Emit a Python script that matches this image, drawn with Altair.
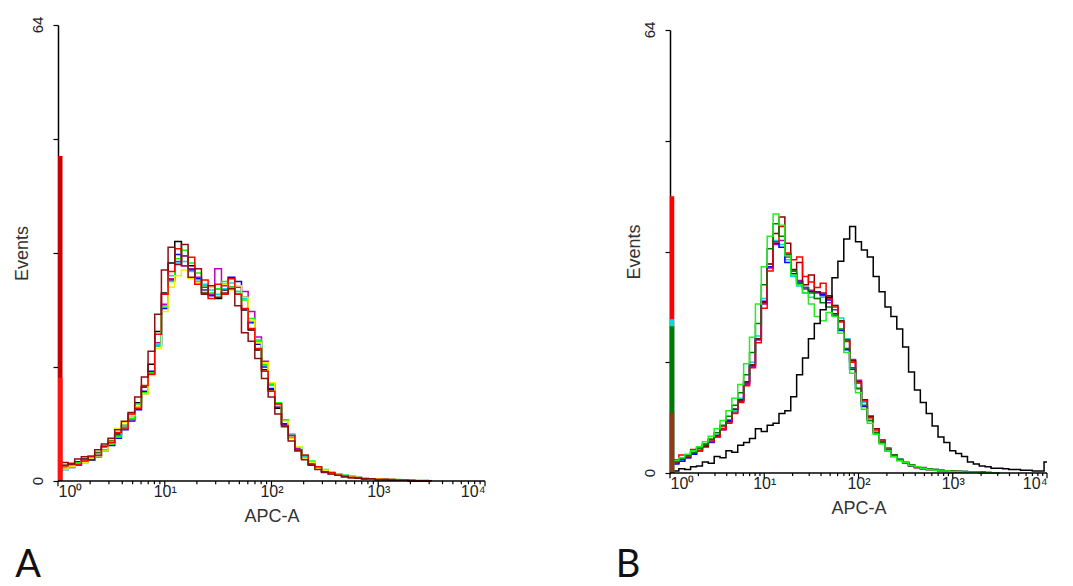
import altair as alt
import pandas as pd

# ---------------- axis ticks ----------------
X_TICK_VALUES = [1, 10, 100, 1000, 10000]
X_TICK_LABELS = ["10⁰", "10¹", "10²", "10³", "10⁴"]
X_MINOR_MULT = [2, 3, 4, 5, 6, 7, 8, 9]
Y_TICK_VALUES = [0, 16, 32, 48, 64]
Y_LABEL_VALUES = [0, 64]
Y_LABEL_TEXT = ["0", "64"]
BINS_PER_DECADE = 16
SPIKE_X = 1.05

# ---------------- panel A (channel k -> 10^(k/16)) ----------------
A_NAMES = ["black", "magenta", "blue", "cyan", "lime", "yellow", "red", "maroon"]
A_COLORS = ["#000000", "#c000c0", "#0000ff", "#00d8f0", "#00ff00", "#f2f200", "#ff0000", "#8b1010"]
A_BLACK = [1.9,2.2,2.4,2.7,3.1,3.4,4.0,4.8,5.7,6.6,7.8,9.2,11.0,13.2,16.4,21.0,26.4,30.6,33.6,31.6,30.2,28.0,26.4,26.2,25.6,26.8,27.2,26.2,24.0,21.2,18.4,15.6,12.8,10.2,8.0,6.0,4.4,3.2,2.4,1.8,1.4,1.1,0.9,0.7,0.5,0.4,0.3,0.3,0.2,0.2,0.1,0.1,0.1,0.0,0.0,0.0,0]
A_MAGENTA = [1.6,1.8,2.3,2.4,3.0,3.3,3.5,4.4,5.4,6.3,7.5,8.4,10.4,12.4,15.2,19.4,24.8,28.4,30.8,31.6,29.8,28.6,27.2,26.2,29.8,27.4,27.0,27.2,26.6,23.8,20.2,16.8,13.6,10.8,8.6,6.4,4.6,3.6,2.6,1.9,1.4,1.1,0.9,0.7,0.6,0.4,0.4,0.3,0.2,0.2,0.2,0.1,0.1,0.1,0.0,0.0,0]
A_BLUE = [1.4,1.6,1.9,2.2,2.6,2.9,3.4,4.2,5.0,6.0,7.2,8.6,10.0,12.6,15.4,19.0,24.2,28.2,31.8,30.2,29.6,28.4,26.8,26.0,27.0,27.6,28.6,28.0,25.8,22.2,19.2,16.0,13.0,10.4,8.0,6.0,4.4,3.2,2.4,1.8,1.2,1.0,0.8,0.6,0.5,0.4,0.3,0.3,0.2,0.1,0.1,0.1,0.1,0.0,0.0,0.0,0]
A_CYAN = [1.2,1.6,2.0,2.4,2.7,3.0,3.6,4.3,5.3,6.2,7.4,8.7,10.2,12.2,15.0,19.2,24.6,28.8,30.6,30.8,29.4,28.0,27.6,26.8,26.2,27.0,27.8,26.6,25.6,22.4,19.6,16.2,13.4,10.8,8.4,6.6,4.8,3.4,2.6,2.0,1.5,1.1,1.0,0.8,0.6,0.5,0.4,0.3,0.2,0.2,0.1,0.1,0.1,0.1,0.0,0.0,0]
A_LIME = [1.5,1.9,2.1,2.6,2.7,3.3,3.9,4.4,5.2,6.2,7.8,8.8,10.8,12.4,15.2,19.0,24.4,28.0,31.2,32.4,30.6,29.2,27.4,26.4,27.0,28.0,27.2,26.6,25.4,22.8,19.8,16.4,13.6,11.0,8.6,6.4,4.8,3.6,2.8,2.0,1.6,1.2,1.0,0.8,0.7,0.5,0.4,0.3,0.3,0.2,0.2,0.2,0.1,0.1,0.1,0.1,0]
A_YELLOW = [1.4,1.7,2.0,2.3,2.6,3.1,3.5,4.2,5.8,7.4,8.2,9.2,10.4,12.2,14.8,18.6,23.8,27.2,28.8,29.6,28.4,27.8,26.6,27.2,26.0,27.6,26.8,27.4,25.8,22.6,19.4,16.6,13.8,10.6,8.4,6.0,4.8,3.2,2.6,1.8,1.5,1.0,0.9,0.7,0.6,0.4,0.4,0.3,0.3,0.2,0.2,0.1,0.1,0.1,0.1,0.0,0]
A_RED = [1.6,2.1,2.5,2.3,2.8,3.5,3.6,4.9,5.4,6.8,7.3,9.4,10.2,13.4,15.0,20.6,26.2,29.4,32.6,30.2,31.4,27.6,28.2,25.6,27.6,26.2,28.4,26.2,24.2,21.4,18.6,15.4,12.6,10.8,7.8,6.4,4.4,3.6,2.4,2.0,1.3,1.2,0.8,0.7,0.5,0.5,0.3,0.3,0.2,0.2,0.2,0.1,0.1,0.1,0.0,0.0,0]
A_MAROON = [2.2,2.6,2.4,3.1,3.4,3.0,4.4,5.2,6.0,7.2,8.4,9.6,11.8,14.6,18.2,23.4,29.6,32.8,30.4,33.2,28.6,29.8,26.2,27.4,25.8,26.4,27.0,24.6,20.8,19.6,17.2,14.4,11.8,9.4,7.6,5.6,4.2,3.0,2.2,1.6,1.3,1.0,0.8,0.6,0.5,0.4,0.3,0.3,0.2,0.2,0.1,0.1,0.1,0.0,0.0,0.0,0]
A_VALUES = [A_BLACK, A_MAGENTA, A_BLUE, A_CYAN, A_LIME, A_YELLOW, A_RED, A_MAROON]
A_SPIKE_COLORS = ["#c80000", "#ff1414"]
A_SPIKE_VALUES = [45.6, 14.5]

# ---------------- panel B ----------------
B_NAMES = ["magenta", "cyan", "blue", "maroon", "red", "darkgreen", "lime", "black"]
B_COLORS = ["#b800b8", "#00dcdc", "#0000ff", "#8b0000", "#ff0000", "#007a00", "#22ee22", "#000000"]
B_MAGENTA = [1.2,1.4,1.8,2.2,2.7,3.2,3.8,4.4,5.2,6.2,7.4,8.8,10.4,12.8,15.4,19.2,24.4,29.6,33.0,33.6,31.2,29.2,27.8,26.6,26.4,26.0,25.6,24.6,23.6,22.0,19.4,16.4,13.4,10.6,8.2,6.4,4.8,3.6,2.6,2.0,1.5,1.2,0.9,0.8,0.6,0.5,0.4,0.3,0.3,0.2,0.2,0.1,0.1,0.1,0.1,0.0,0]
B_CYAN = [1.1,1.4,1.8,2.3,2.8,3.3,3.9,4.6,5.5,6.5,7.7,9.0,10.8,13.2,16.0,19.8,25.2,30.2,33.6,33.0,30.8,28.4,27.0,26.0,25.4,25.2,25.4,25.2,24.2,22.4,19.4,16.2,13.0,10.2,8.0,6.0,4.6,3.4,2.6,2.0,1.5,1.2,0.9,0.7,0.6,0.5,0.4,0.3,0.2,0.2,0.2,0.1,0.1,0.1,0.0,0.0,0]
B_BLUE = [1.0,1.3,1.7,2.2,2.7,3.2,3.9,4.5,5.3,6.4,7.6,9.2,10.6,13.0,15.6,19.4,24.8,29.8,33.2,32.6,30.4,28.8,27.6,26.8,26.2,26.2,25.8,25.0,23.0,20.6,17.8,15.0,12.2,9.6,7.6,5.8,4.4,3.2,2.4,1.8,1.4,1.0,0.8,0.6,0.5,0.4,0.3,0.2,0.2,0.2,0.1,0.1,0.1,0.0,0.0,0.0,0]
B_MAROON = [1.1,1.6,2.0,2.6,2.9,3.6,3.8,4.8,5.4,6.8,7.4,9.2,10.4,13.2,15.6,19.4,24.6,30.2,34.6,37.0,33.2,29.4,30.4,27.2,28.6,26.2,26.0,25.6,24.2,22.0,19.2,16.2,13.2,10.6,8.2,6.4,4.6,3.4,2.6,1.9,1.5,1.1,0.8,0.7,0.5,0.4,0.3,0.3,0.2,0.2,0.1,0.1,0.1,0.1,0.0,0.0,0]
B_RED = [1.3,1.9,2.6,2.4,3.4,3.2,4.2,4.6,5.2,6.4,7.2,8.6,10.2,12.6,15.2,18.8,23.8,29.2,33.4,35.6,31.8,30.8,31.2,28.4,27.6,26.8,27.4,25.2,24.0,21.8,19.0,16.0,13.0,10.4,8.0,6.2,4.6,3.4,2.5,1.9,1.4,1.1,0.8,0.6,0.5,0.4,0.3,0.3,0.2,0.2,0.1,0.1,0.1,0.0,0.0,0.0,0]
B_DARKGREEN = [1.6,1.7,2.1,2.5,3.0,3.5,4.1,4.9,5.8,6.9,8.2,9.8,11.6,14.2,17.4,21.6,27.2,32.4,36.0,34.2,31.6,29.2,27.4,26.8,26.0,25.2,24.6,24.0,22.8,20.8,18.0,15.2,12.2,9.8,7.6,5.8,4.4,3.4,2.6,2.0,1.5,1.2,0.9,0.7,0.6,0.5,0.4,0.3,0.3,0.2,0.2,0.1,0.1,0.1,0.0,0.0,0]
B_LIME = [1.4,1.8,2.2,2.7,3.2,3.8,4.5,5.3,6.4,7.6,9.0,10.8,12.8,15.8,19.6,24.4,29.8,34.2,37.4,35.8,31.4,28.6,27.2,26.0,24.4,22.6,22.0,23.2,22.6,20.2,17.4,14.4,11.6,9.2,7.2,5.6,4.2,3.2,2.4,1.8,1.5,1.1,0.9,0.7,0.5,0.4,0.3,0.3,0.2,0.2,0.1,0.1,0.1,0.0,0.0,0.0,0]
B_BLACK = [0.4,0.3,0.6,0.5,0.9,1.0,1.6,1.4,2.4,2.2,3.2,3.0,4.0,4.4,5.0,6.4,6.0,6.9,7.2,8.6,9.0,11.0,14.2,16.6,19.4,21.6,23.6,25.4,28.2,30.6,33.8,35.6,33.4,32.2,31.2,28.4,26.2,24.0,22.6,20.8,18.2,14.6,12.0,10.2,8.6,6.8,5.2,4.4,3.2,2.8,2.4,1.6,1.3,1.0,0.9,0.7,0.7,0.6,0.5,0.5,0.4,0.4,0.3,0.3,1.6]
B_VALUES = [B_MAGENTA, B_CYAN, B_BLUE, B_MAROON, B_RED, B_DARKGREEN, B_LIME, B_BLACK]
B_SPIKE_COLORS = ["#ff0000", "#00dcdc", "#007a00", "#8b3a1a"]
B_SPIKE_VALUES = [40.0, 22.2, 21.2, 8.7]

MINOR_TICK_LEN = 0.45   # in y units, below the baseline
MAJOR_TICK_LEN = 0.75


def panel_frame(names, colors, values, spike_colors, spike_values):
    rows = []
    for n, c, vals in zip(names, colors, values):
        for k, v in enumerate(vals):
            rows.append({"s": n, "c": c, "w": 1.5, "x": 10 ** (k / BINS_PER_DECADE), "v": v})
    for i, (c, v) in enumerate(zip(spike_colors, spike_values)):
        rows.append({"s": f"spike{i}", "c": c, "w": 4.5, "x": SPIKE_X, "v": 0})
        rows.append({"s": f"spike{i}", "c": c, "w": 4.5, "x": SPIKE_X, "v": v})
    # x axis baseline and tick marks
    rows.append({"s": "axisline", "c": "#000000", "w": 1.6, "x": X_TICK_VALUES[0], "v": 0})
    rows.append({"s": "axisline", "c": "#000000", "w": 1.6, "x": X_TICK_VALUES[-1], "v": 0})
    ticks = [(t, MAJOR_TICK_LEN) for t in X_TICK_VALUES] + \
            [(m * 10 ** d, MINOR_TICK_LEN) for d in range(4) for m in X_MINOR_MULT]
    for j, (t, ln) in enumerate(ticks):
        rows.append({"s": f"tick{j}", "c": "#000000", "w": 1.2, "x": t, "v": 0})
        rows.append({"s": f"tick{j}", "c": "#000000", "w": 1.2, "x": t, "v": -ln})
    return pd.DataFrame(rows)


x_expr = " : ".join(f"datum.value == {v} ? '{l}'" for v, l in zip(X_TICK_VALUES, X_TICK_LABELS)) + " : ''"


def panel(df, letter, width, height, yscale, letter_dx):
    xs = alt.Scale(type="log", domain=[1, 10000])
    yaxis = alt.Axis(values=Y_TICK_VALUES, labels=False, title="Events",
                     tickSize=5, titlePadding=21, titleFontSize=18,
                     domain=True, ticks=True)
    xaxis = alt.Axis(values=X_TICK_VALUES, labelExpr=x_expr, title="APC-A",
                     domain=False, ticks=False, tickSize=4, labelPadding=2,
                     labelFontSize=16, titleFontSize=18, titlePadding=8, labelOverlap=False)

    lines = alt.Chart(df).mark_line(interpolate="step").encode(
        x=alt.X("x:Q", scale=xs, axis=xaxis),
        y=alt.Y("v:Q", scale=yscale, axis=yaxis),
        color=alt.Color("c:N", scale=None),
        strokeWidth=alt.StrokeWidth("w:Q", scale=None),
        detail="s:N",
    )
    ylabels = alt.Chart(pd.DataFrame({"v": Y_LABEL_VALUES, "t": Y_LABEL_TEXT})).mark_text(
        angle=270, fontSize=15, font="Liberation Sans", align="center", baseline="middle",
        color="#222222"
    ).encode(
        y=alt.Y("v:Q", scale=yscale, axis=yaxis),
        x=alt.value(-20),
        text="t:N",
    )
    label = alt.Chart(pd.DataFrame({"t": [letter]})).mark_text(
        fontSize=38, font="Lato", align="center", baseline="alphabetic", color="#111111"
    ).encode(x=alt.value(letter_dx), y=alt.value(552), text="t:N")

    return alt.layer(lines, ylabels, label).properties(width=width, height=height)


panel_a = panel(panel_frame(A_NAMES, A_COLORS, A_VALUES, A_SPIKE_COLORS, A_SPIKE_VALUES),
                "A", 427, 456, alt.Scale(domain=[0, 64]), -30)
panel_b = panel(panel_frame(B_NAMES, B_COLORS, B_VALUES, B_SPIKE_COLORS, B_SPIKE_VALUES),
                "B", 377, 448, alt.Scale(domain=[0, 64], range=[448, 5]), -42)

chart = alt.hconcat(panel_a, panel_b, spacing=185, bounds="flush").properties(
    padding={"left": 5, "top": 8, "right": 0, "bottom": 0}
).configure_view(stroke=None).configure_axis(
    grid=False, domainColor="#000000", tickColor="#000000", domainWidth=1.5, tickWidth=1.2,
    labelFont="Liberation Sans", titleFont="Liberation Sans",
    labelColor="#222222", titleColor="#333333", titleFontWeight="normal",
)

chart.save("out.html", embed_options={"renderer": "svg", "actions": False})
